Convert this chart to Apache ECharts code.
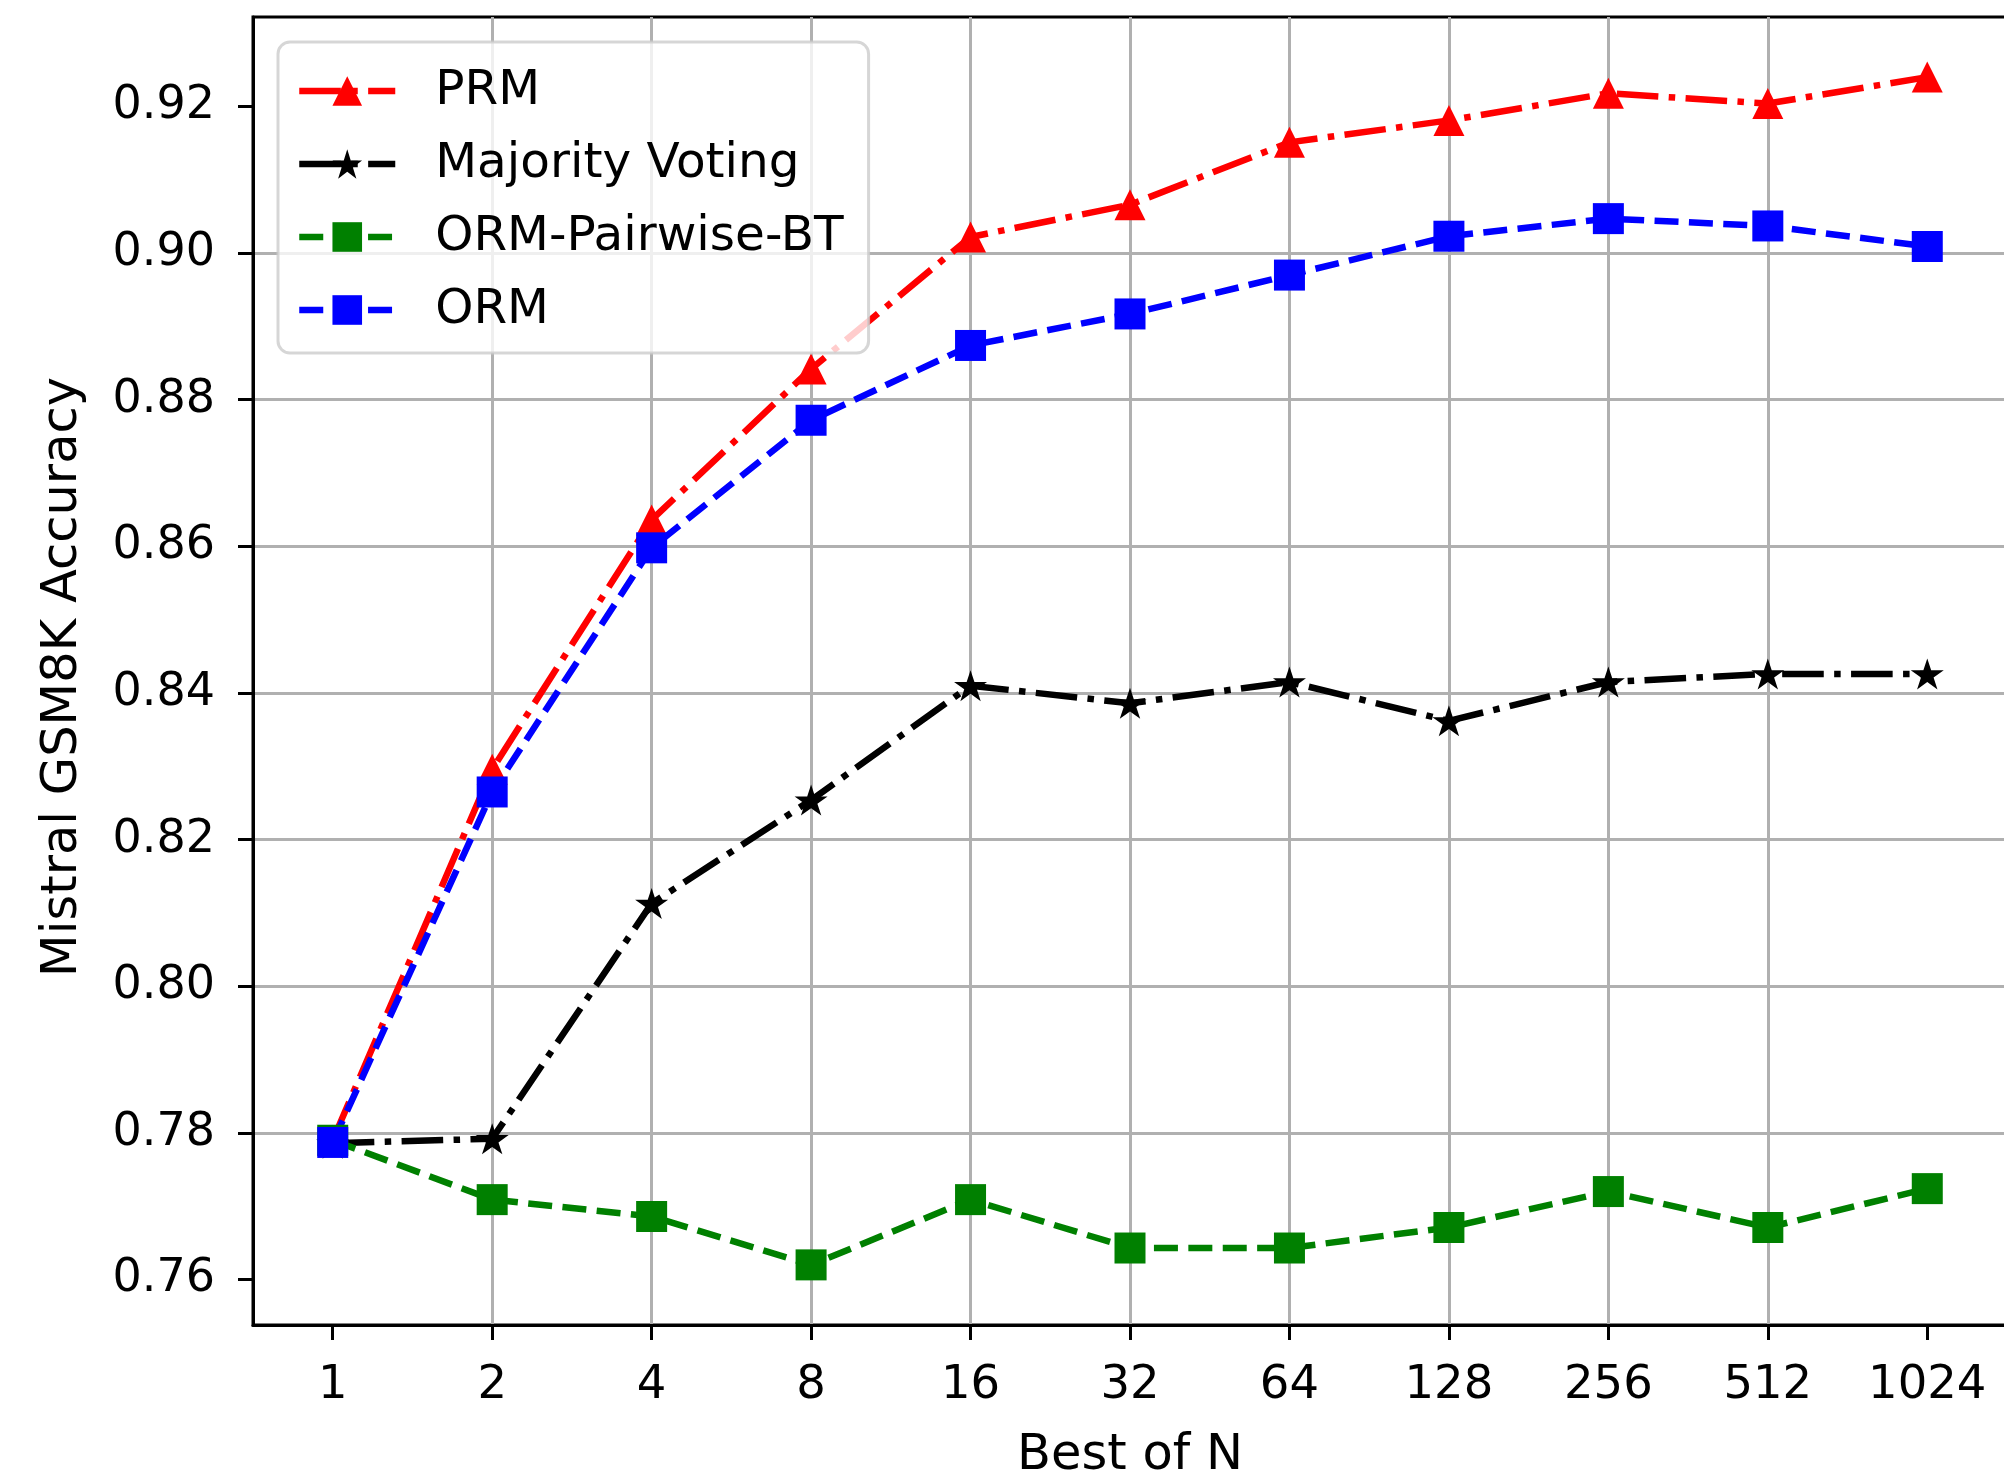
<!DOCTYPE html>
<html>
<head>
<meta charset="utf-8">
<title>Best of N - Mistral GSM8K</title>
<script src="https://cdn.jsdelivr.net/npm/echarts@6/dist/echarts.min.js"></script>
<style>
  html, body { margin: 0; padding: 0; background: #fff; }
  #chart { width: 2004px; height: 1477px; }
</style>
</head>
<body>
<div id="chart"></div>
<script>
// categories (Best of N) and tick labels
const bestOfN = ['1', '2', '4', '8', '16', '32', '64', '128', '256', '512', '1024']
const yTicks = [0.76, 0.78, 0.80, 0.82, 0.84, 0.86, 0.88, 0.90, 0.92]
const xTicks = [0, 1, 2, 3, 4, 5, 6, 7, 8, 9, 10]

// accuracy
const prm = [0.779, 0.8296, 0.8636, 0.8842, 0.9022, 0.9066, 0.9151, 0.9181, 0.9218, 0.9204, 0.9240]
const majorityVoting = [0.7786, 0.7792, 0.8113, 0.8254, 0.8410, 0.8386, 0.8415, 0.8362, 0.8415, 0.8426, 0.8426]
const ormPairwiseBT = [0.779, 0.7709, 0.7686, 0.7620, 0.7709, 0.7643, 0.7643, 0.7671, 0.7720, 0.7671, 0.7724]
const orm = [0.7787, 0.8265, 0.8598, 0.8772, 0.8874, 0.8917, 0.8970, 0.9023, 0.9047, 0.9037, 0.9009]

const font = 'DejaVu Sans'
const lw = 6.5
const dashed = [24, 10.4]
const dashDot = [41.6, 10.4, 6.5, 10.4]
// matplotlib '*' marker
const star = 'path://M0,-1 L0.2245,-0.309 L0.951,-0.309 L0.3633,0.118 L0.588,0.809 L0,0.382 L-0.588,0.809 L-0.3633,0.118 L-0.951,-0.309 L-0.2245,-0.309 Z'

function pts(arr) {
  return arr.map((v, i) => [i, v])
}

function makeSeries(name, values, color, dash, symbol, size) {
  return {
    name: name,
    type: 'line',
    data: pts(values),
    symbol: symbol,
    symbolSize: size,
    showAllSymbol: true,
    color: color,
    itemStyle: { color: color },
    lineStyle: { color: color, width: lw, type: dash, cap: 'butt' },
    emphasis: { disabled: true },
    animation: false
  }
}

const chart = echarts.init(document.getElementById('chart'), null, { renderer: 'canvas' })

const option = {
  backgroundColor: '#fff',
  animation: false,
  textStyle: { fontFamily: font },
  grid: {
    left: 253,
    top: 17,
    width: 1754,
    height: 1308,
    outerBoundsMode: 'none',
    containLabel: false,
    show: true,
    borderColor: '#000',
    borderWidth: 3,
    backgroundColor: 'transparent'
  },
  legend: {
    orient: 'vertical',
    left: 278,
    top: 42,
    itemWidth: 96,
    itemHeight: 37,
    itemGap: 23,
    padding: [24, 25, 18, 18],
    backgroundColor: 'rgba(255,255,255,0.8)',
    borderColor: 'rgba(204,204,204,0.8)',
    borderWidth: 3,
    borderRadius: 12,
    lineStyle: { width: 'inherit', type: 'inherit' },
    textStyle: {
      fontFamily: font,
      fontSize: 48.5,
      lineHeight: 50,
      color: '#000',
      padding: [0, 0, 0, 35]
    },
    data: ['PRM', 'Majority Voting', 'ORM-Pairwise-BT', 'ORM']
  },
  xAxis: {
    type: 'value',
    min: -0.5,
    max: 10.5,
    splitNumber: 11,
    minInterval: 1,
    maxInterval: 1,
    name: 'Best of N',
    nameLocation: 'middle',
    nameGap: 106,
    nameTextStyle: { fontFamily: font, fontSize: 49.5, color: '#000' },
    axisLine: { show: true, onZero: false, lineStyle: { color: '#000', width: 3 } },
    axisTick: { show: true, length: 15, customValues: xTicks, lineStyle: { color: '#000', width: 3 } },
    axisLabel: {
      customValues: xTicks,
      formatter: v => bestOfN[v] || '',
      margin: 37,
      fontFamily: font,
      fontSize: 46.5,
      color: '#000'
    },
    splitLine: { show: true, showMinLine: false, showMaxLine: false, lineStyle: { color: '#b0b0b0', width: 3 } }
  },
  yAxis: {
    type: 'value',
    min: 0.7538,
    max: 0.9322,
    splitNumber: 9,
    minInterval: 0.02,
    maxInterval: 0.02,
    name: 'Mistral GSM8K Accuracy',
    nameLocation: 'middle',
    nameRotate: 90,
    nameGap: 165,
    nameTextStyle: { fontFamily: font, fontSize: 49.5, color: '#000', padding: [0, 12, 0, 0] },
    axisLine: { show: true, onZero: false, lineStyle: { color: '#000', width: 3 } },
    axisTick: { show: true, length: 15, customValues: yTicks, lineStyle: { color: '#000', width: 3 } },
    axisLabel: {
      customValues: yTicks,
      formatter: v => v.toFixed(2),
      margin: 38,
      fontFamily: font,
      fontSize: 46,
      color: '#000'
    },
    splitLine: { show: true, showMinLine: false, showMaxLine: false, lineStyle: { color: '#b0b0b0', width: 3 } }
  },
  series: [
    makeSeries('PRM', prm, '#ff0000', dashDot, 'triangle', [31, 31]),
    makeSeries('Majority Voting', majorityVoting, '#000000', dashDot, star, [33, 31]),
    makeSeries('ORM-Pairwise-BT', ormPairwiseBT, '#008000', dashed, 'rect', 31),
    makeSeries('ORM', orm, '#0000ff', dashed, 'rect', 31)
  ]
}

chart.setOption(option)
</script>
</body>
</html>
